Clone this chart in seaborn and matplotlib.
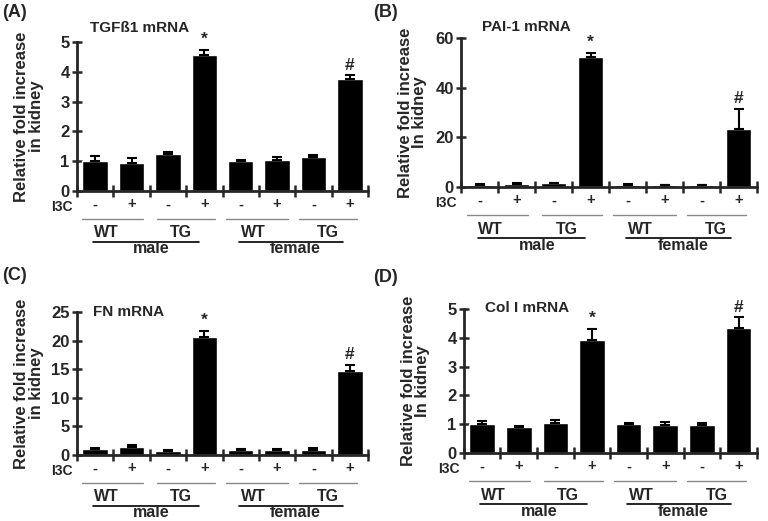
import numpy as np
import matplotlib
matplotlib.use('Agg')
import matplotlib.pyplot as plt
import matplotlib.transforms as mtransforms
import seaborn as sns

sns.set_style('ticks')
plt.rcParams['font.family'] = ['Liberation Sans', 'DejaVu Sans']
plt.rcParams['font.weight'] = 'bold'
plt.rcParams['axes.labelweight'] = 'bold'

# treatment row and group labels
i3c = ['-', '+', '-', '+', '-', '+', '-', '+']
genotype = ['WT', 'TG', 'WT', 'TG']
genotype_pos = [0.3, 2.35, 4.35, 6.4]
sex = ['male', 'female']
sex_pos = [1.55, 5.5]

# values (mean, upper error)
tgfb1_mean = [1.0, 0.95, 1.25, 4.55, 1.0, 1.05, 1.15, 3.75]
tgfb1_err = [0.17, 0.15, 0.06, 0.18, 0.05, 0.1, 0.05, 0.13]
pai1_mean = [1.0, 1.3, 1.5, 52.3, 0.9, 0.8, 0.8, 23.5]
pai1_err = [0.3, 0.3, 0.3, 1.8, 0.2, 0.2, 0.2, 8.0]
fn_mean = [1.0, 1.35, 0.65, 20.6, 0.8, 0.8, 0.95, 14.7]
fn_err = [0.3, 0.45, 0.25, 1.1, 0.3, 0.3, 0.3, 1.1]
col1_mean = [1.0, 0.9, 1.05, 3.93, 1.0, 0.98, 0.98, 4.33]
col1_err = [0.1, 0.05, 0.08, 0.38, 0.05, 0.1, 0.05, 0.38]

marks = {3: '*', 7: '#'}

fig = plt.figure(figsize=(7.68, 5.21), dpi=100)


def below(ax, px):
    # x in data units, y shifted px pixels under the x axis
    return ax.get_xaxis_transform() + mtransforms.ScaledTranslation(0, -px / 100, fig.dpi_scale_trans)


def above(ax, px):
    return ax.get_xaxis_transform() + mtransforms.ScaledTranslation(0, px / 100, fig.dpi_scale_trans)


def draw_panel(rect, means, errs, yticks, title, title_x, title_dy, ylabel, letter, letter_xy):
    ax = fig.add_axes(rect)
    x = np.arange(len(means))
    sns.barplot(x=x, y=means, color='black', saturation=1, width=0.7, errorbar=None, ax=ax)
    ax.errorbar(x, means, yerr=[np.zeros(len(errs)), errs], fmt='none', ecolor='black',
                elinewidth=1.5, capsize=3.5, capthick=1.5)
    ax.set_xlim(-0.5, 7.5)
    ax.set_ylim(0, yticks[-1])
    ax.set_yticks(yticks)
    sns.despine(ax=ax)
    for s in ['left', 'bottom']:
        ax.spines[s].set_linewidth(2)
    ax.set_xticks(x, i3c)
    ax.set_xticks(np.arange(-0.5, 8, 1), minor=True)
    ax.tick_params(axis='x', which='major', length=0, pad=4.5, labelsize=10.5)
    ax.tick_params(axis='x', which='minor', direction='inout', length=8.5, width=1.8)
    ax.tick_params(axis='y', direction='inout', length=6.5, width=1.8, labelsize=12, pad=2)
    ax.set_xlabel('')
    ax.set_ylabel(ylabel, fontsize=12, linespacing=0.95)
    ax.yaxis.set_label_coords(-0.115, 0.5)

    ax.text(-0.62, 0, 'I3C', transform=below(ax, 16), ha='right', va='center', fontsize=10)
    for x0, x1 in [(-0.35, 1.3), (1.7, 3.3), (3.6, 5.3), (5.6, 7.2)]:
        ax.plot([x0, x1], [0, 0], transform=below(ax, 28), color='#888888', lw=1, clip_on=False)
    for g, gx in zip(genotype, genotype_pos):
        ax.text(gx, 0, g, transform=below(ax, 42), ha='center', va='center', fontsize=11.5)
    for x0, x1 in [(-0.05, 2.85), (3.95, 6.8)]:
        ax.plot([x0, x1], [0, 0], transform=below(ax, 51), color='black', lw=1.2, clip_on=False)
    for s, sx in zip(sex, sex_pos):
        ax.text(sx, 0, s, transform=below(ax, 58), ha='center', va='center', fontsize=11.5)

    for i, m in marks.items():
        ax.annotate(m, (i, means[i] + errs[i]), xytext=(0, 2), textcoords='offset points',
                    ha='center', va='bottom', fontsize=12.5)

    ax.text(title_x, 1, title, transform=above(ax, title_dy), ha='left', va='center', fontsize=11)
    fig.text(letter_xy[0], letter_xy[1], letter, ha='left', va='center', fontsize=13)
    return ax


draw_panel([0.1003, 0.6334, 0.3789, 0.286], tgfb1_mean, tgfb1_err, [0, 1, 2, 3, 4, 5],
           'TGFß1 mRNA', -0.14, 14, 'Relative fold increase\nin kidney', '(A)', (0.003, 0.976))
draw_panel([0.6003, 0.641, 0.3854, 0.286], pai1_mean, pai1_err, [0, 20, 40, 60],
           'PAI-1 mRNA', 0.06, 11, 'Relative fold increase\nIn kidney', '(B)', (0.486, 0.976))
draw_panel([0.1003, 0.1267, 0.3789, 0.2745], fn_mean, fn_err, [0, 5, 10, 15, 20, 25],
           'FN mRNA', -0.05, 0, 'Relative fold increase\nin kidney', '(C)', (0.003, 0.472))
draw_panel([0.604, 0.1305, 0.3815, 0.2764], col1_mean, col1_err, [0, 1, 2, 3, 4, 5],
           'Col I mRNA', 0.09, 1, 'Relative fold increase\nIn kidney', '(D)', (0.486, 0.468))

fig.savefig('out.png', dpi=100)
